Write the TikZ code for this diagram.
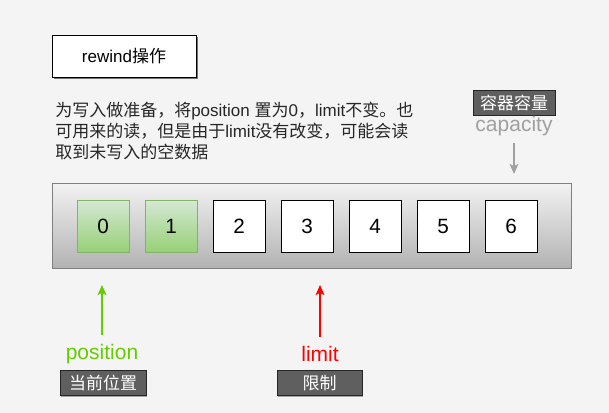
\documentclass[tikz,border=0pt]{standalone}
\usepackage{fontspec}
\setmainfont{Liberation Sans}
\newfontfamily\cjk{Noto Sans CJK SC}
\usetikzlibrary{arrows.meta,shadows}

\definecolor{bgcol}{HTML}{F4F4F4}
\definecolor{tagcol}{HTML}{5F5F5F}
\definecolor{poscol}{HTML}{66CC00}
\definecolor{capcol}{HTML}{A0A0A0}
\definecolor{usedtop}{HTML}{D5E8D4}
\definecolor{usedbot}{HTML}{97D077}
\definecolor{usedline}{HTML}{82B366}

\begin{document}
\begin{tikzpicture}[x=0.75pt, y=-0.75pt,
		titlebox/.style={draw=black, fill=white, minimum width=108pt, minimum height=31.5pt,
				drop shadow={shadow xshift=1.2pt, shadow yshift=-1.2pt, fill=black!55, opacity=1}},
		tagbox/.style={draw=black!85, fill=tagcol, text=white, inner sep=0pt,
				minimum height=18.75pt, font=\fontsize{12.75}{15}\selectfont,
				drop shadow={shadow xshift=0.8pt, shadow yshift=-0.8pt, fill=black!35, opacity=1}},
		buffer/.style={draw=black!50, top color=black!5, bottom color=black!30,
				minimum width=389.25pt, minimum height=63.75pt},
		cell/.style={draw=black, fill=white, minimum size=39pt, inner sep=0pt,
				font=\fontsize{15.5}{18}\selectfont,
				drop shadow={shadow xshift=0.8pt, shadow yshift=-0.8pt, fill=black!45, opacity=1}},
		usedcell/.style={draw=usedline, top color=usedtop, bottom color=usedbot, minimum size=39pt,
				inner sep=0pt, font=\fontsize{15.5}{18}\selectfont},
		pointer/.style={line width=1.1pt, -{Stealth[length=7.5pt, width=6.5pt, inset=1.5pt]}},
		bigtext/.style={inner sep=0pt, font=\fontsize{15.75}{18}\selectfont}
	]
		\fill[bgcol] (0, 0) rectangle (609, 413);
		\useasboundingbox (0, 0) rectangle (609, 413);

		\node[titlebox, font=\fontsize{12.75}{15}\selectfont] (title) at (124, 56) {rewind{\cjk 操作}};

		\node[anchor=west, align=left, inner sep=0pt, text=black!85,
			font=\fontsize{12.75}{15.4}\selectfont] (desc) at (55, 131)
		{{\cjk 为写入做准备，将}position {\cjk 置为}0{\cjk ，}limit{\cjk 不变。也}\\
			{\cjk 可用来的读，但是由于}limit{\cjk 没有改变，可能会读}\\
			{\cjk 取到未写入的空数据}};

		\node[tagbox, minimum width=61.5pt] (captag) at (514, 102.5) {\cjk 容器容量};
		\node[bigtext, text=capcol] (captxt) at (514, 126) {capacity};
		\coordinate (capend) at (514, 174);
		\draw[pointer, capcol, line width=1pt, shorten <=5pt] (captxt) -- (capend);

		\node[buffer] (buf) at (311.5, 225.5) {};

		\foreach \i in {0, 1}{
				\node[usedcell] (c\i) at (103 + 68*\i, 226) {\i};
			}
		\foreach \i in {2, ..., 6}{
				\node[cell] (c\i) at (103 + 68*\i, 226) {\i};
			}

		\node[bigtext, text=poscol] (postxt) at (102, 354) {position};
		\coordinate (posend) at (102, 285);
		\draw[pointer, poscol, shorten <=7pt] (postxt) -- (posend);
		\node[tagbox, minimum width=64.5pt] (postag) at (103, 383) {\cjk 当前位置};

		\node[bigtext, text=red] (limtxt) at (320, 354) {limit};
		\coordinate (limend) at (320, 285);
		\draw[pointer, red, shorten <=7pt] (limtxt) -- (limend);
		\node[tagbox, minimum width=63.75pt] (limtag) at (319.5, 383) {\cjk 限制};
	\end{tikzpicture}
\end{document}
